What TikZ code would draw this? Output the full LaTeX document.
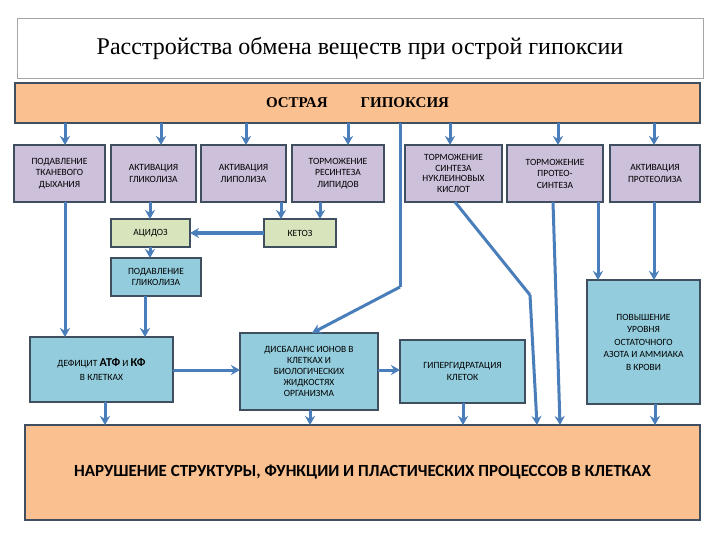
\documentclass[tikz,border=0pt]{standalone}
\usepackage{fontspec}
\setmainfont{Carlito}
\newfontfamily\serifx{Liberation Serif}
\usetikzlibrary{arrows.meta}
\definecolor{lav}{HTML}{CCC0DA}
\definecolor{grn}{HTML}{D7E4BC}
\definecolor{lblue}{HTML}{93CDDD}
\definecolor{orng}{HTML}{FAC090}
\definecolor{bord}{HTML}{3F4F5F}
\definecolor{arrc}{HTML}{4A7EBB}
\begin{document}
\begin{tikzpicture}[x=1pt,y=-1pt,
 bx/.style={draw=bord,line width=2.4pt,inner sep=1pt,outer sep=0pt,align=center,font=\fontsize{9.5}{11.5}\selectfont},
 lv/.style={bx,fill=lav},
 gr/.style={bx,fill=grn},
 lb/.style={bx,fill=lblue},
 arr/.style={draw=arrc,line width=3pt,-{Stealth[length=9pt,width=10pt]}},
 ln/.style={draw=arrc,line width=3pt}]
\useasboundingbox (0,0) rectangle (720,540);
\fill[white] (0,0) rectangle (720,540);
\node[draw=gray!70,line width=0.8pt,fill=white,minimum width=686,minimum height=60,inner sep=0,font=\serifx\fontsize{24}{26}\selectfont] (title) at (360,48) {Расстройства обмена веществ при острой гипоксии};
\node[bx,fill=orng,minimum width=685,minimum height=40,font=\serifx\bfseries\fontsize{15}{17}\selectfont] (top) at (357.5,103) {ОСТРАЯ\hspace{2.2em}ГИПОКСИЯ};
\node[lv,minimum width=91,minimum height=57] (b1) at (59.5,173.5) {ПОДАВЛЕНИЕ\\ТКАНЕВОГО\\ДЫХАНИЯ};
\node[lv,minimum width=85,minimum height=57] (b2) at (153.5,173.5) {АКТИВАЦИЯ\\ГЛИКОЛИЗА};
\node[lv,minimum width=85,minimum height=57] (b3) at (243.5,173.5) {АКТИВАЦИЯ\\ЛИПОЛИЗА};
\node[lv,minimum width=92,minimum height=57] (b4) at (338,173.5) {ТОРМОЖЕНИЕ\\РЕСИНТЕЗА\\ЛИПИДОВ};
\node[lv,minimum width=97,minimum height=57,font=\fontsize{9.5}{10.5}\selectfont] (b5) at (453.5,173.5) {ТОРМОЖЕНИЕ\\СИНТЕЗА\\НУКЛЕИНОВЫХ\\КИСЛОТ};
\node[lv,minimum width=96,minimum height=57] (b6) at (555,173.5) {ТОРМОЖЕНИЕ\\ПРОТЕО-\\СИНТЕЗА};
\node[lv,minimum width=90,minimum height=57] (b7) at (655,173.5) {АКТИВАЦИЯ\\ПРОТЕОЛИЗА};
\node[gr,minimum width=79,minimum height=28] (acid) at (150.5,233) {АЦИДОЗ};
\node[gr,minimum width=72,minimum height=28] (ket) at (300,233) {КЕТОЗ};
\node[lb,minimum width=90,minimum height=38] (pg) at (156,277) {ПОДАВЛЕНИЕ\\ГЛИКОЛИЗА};
\node[lb,minimum width=143,minimum height=65] (def) at (101.5,369.5) {ДЕФИЦИТ \textbf{\fontsize{12}{12}\selectfont АТФ} И \textbf{\fontsize{12}{12}\selectfont КФ}\\[3pt]В КЛЕТКАХ};
\node[lb,minimum width=138,minimum height=77,font=\fontsize{9.5}{11}\selectfont] (dis) at (309,371.5) {ДИСБАЛАНС ИОНОВ В\\КЛЕТКАХ И\\БИОЛОГИЧЕСКИХ\\ЖИДКОСТЯХ\\ОРГАНИЗМА};
\node[lb,minimum width=125,minimum height=63] (gip) at (462.5,371.5) {ГИПЕРГИДРАТАЦИЯ\\КЛЕТОК};
\node[lb,minimum width=113,minimum height=124,font=\fontsize{9.5}{12.5}\selectfont] (pov) at (643.5,342) {ПОВЫШЕНИЕ\\УРОВНЯ\\ОСТАТОЧНОГО\\АЗОТА И АММИАКА\\В КРОВИ};
\node[bx,fill=orng,minimum width=675,minimum height=95,font=\bfseries\fontsize{17}{19}\selectfont] (bot) at (362.5,472.5) {НАРУШЕНИЕ СТРУКТУРЫ, ФУНКЦИИ И ПЛАСТИЧЕСКИХ ПРОЦЕССОВ В КЛЕТКАХ};
% top arrows
\foreach \n/\xx in {b1/65,b2/161,b3/246,b4/348,b5/450,b6/558,b7/654}
  \draw[arr] (top.south -| \xx,0) -- (\n.north -| \xx,0);
\draw[arr] (b2.south -| 150,0) -- (acid.north -| 150,0);
\draw[arr] (b3.south -| 281,0) -- (ket.north -| 281,0);
\draw[arr] (b4.south -| 320,0) -- (ket.north -| 320,0);
\draw[arr] (ket.west) -- (acid.east);
\draw[arr] (acid.south -| 150,0) -- (pg.north -| 150,0);
\draw[arr] (b1.south -| 65,0) -- (def.north -| 65,0);
\draw[arr] (pg.south -| 145,0) -- (def.north -| 145,0);
\coordinate (k1) at (400,287);
\draw[ln] (top.south -| 400,0) -- (k1);
\draw[arr] (k1) -- (dis.north -| 312,0);
\coordinate (k2) at (530,295);
\draw[ln] (b5.south -| 455,0) -- (k2);
\draw[arr] (k2) -- (bot.north -| 537,0);
\draw[arr] (b6.south -| 553,0) -- (bot.north -| 560,0);
\draw[arr] (b6.south -| 598,0) -- (pov.north -| 598,0);
\draw[arr] (b7.south -| 654,0) -- (pov.north -| 654,0);
\draw[arr] (def.east |- 0,370) -- (dis.west |- 0,370);
\draw[arr] (dis.east |- 0,370) -- (gip.west |- 0,370);
\draw[arr] (def.south -| 105,0) -- (bot.north -| 105,0);
\draw[arr] (dis.south -| 310,0) -- (bot.north -| 310,0);
\draw[arr] (gip.south -| 463,0) -- (bot.north -| 463,0);
\draw[arr] (pov.south -| 655,0) -- (bot.north -| 655,0);
\end{tikzpicture}
\end{document}
